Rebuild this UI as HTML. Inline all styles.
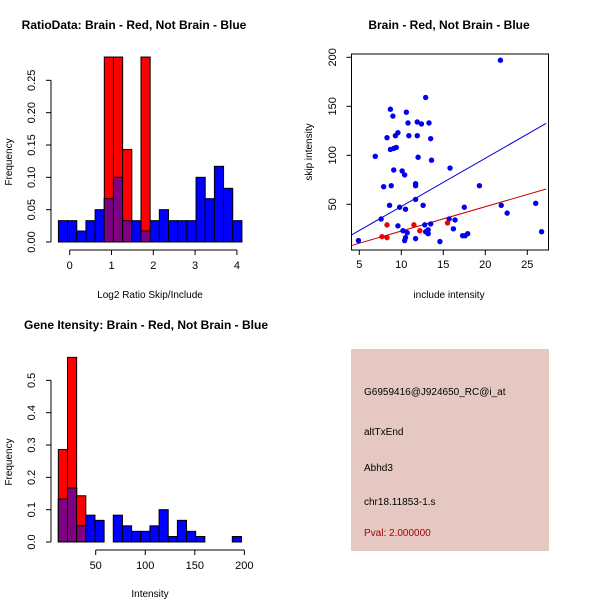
<!DOCTYPE html>
<html><head><meta charset="utf-8"><style>
body{margin:0;background:#fff}
svg{display:block;font-family:"Liberation Sans",sans-serif}
</style></head><body>
<svg id="c" width="600" height="600" viewBox="0 0 600 600"></svg>
<script>
// ---- Data: ratio histogram ----
const ratioBinStart = -0.27, ratioBinWidth = 0.2195;
const ratioBlue = [0.033,0.033,0.017,0.033,0.05,0.067,0.1,0.033,0.033,0.017,0.033,0.05,0.033,0.033,0.033,0.1,0.067,0.117,0.083,0.033];
const ratioRed  = [0,0,0,0,0,0.286,0.286,0.143,0,0.286,0,0,0,0,0,0,0,0,0,0];
const ratioXTicks = [0,1,2,3,4];
const ratioYTicks = ["0.00","0.05","0.10","0.15","0.20","0.25"];
// ---- Data: intensity histogram ----
const intBinStart = 12.3, intBinWidth = 9.24;
const intBlue = [0.133,0.167,0.05,0.083,0.067,0,0.083,0.05,0.033,0.033,0.05,0.1,0.017,0.067,0.033,0.017,0,0,0,0.017];
const intRed  = [0.286,0.571,0.143,0,0,0,0,0,0,0,0,0,0,0,0,0,0,0,0,0];
const intXTicks = [50,100,150,200];
const intYTicks = ["0.0","0.1","0.2","0.3","0.4","0.5"];
// ---- Data: scatter ----
const blueX = [4.9,6.9,7.6,7.9,8.3,8.6,8.7,8.7,8.8,9.0,9.1,9.1,9.3,9.4,9.6,9.6,9.8,10.1,10.2,10.4,10.5,10.6,10.4,10.5,10.7,10.8,10.9,11.7,11.7,11.7,11.7,11.9,11.9,12.0,12.4,12.6,12.8,12.9,12.9,13.0,13.2,13.2,13.3,13.5,13.5,13.6,14.6,15.7,15.8,16.2,16.4,17.3,17.5,17.6,17.9,19.3,21.8,21.9,22.6,26.0,26.7];
const blueY = [13,99,35,68,118,49,147,106,69,140,85,107,120,108,28,123,47,84,23,80,45,144,13,16,21,133,120,71,69,55,15,134,120,98,132,49,29,159,22,22,24,20,133,117,30,95,12,35,87,25,34,18,47,18,20,69,197,49,41,51,22];
const redX = [8.3,8.3,7.7,11.5,12.2,15.5];
const redY = [29,16,17,29,23,31];
const blueLine = [[3.85,17.6],[27.25,132.6]];
const redLine = [[3.85,7.4],[27.25,65.6]];
const scXTicks = [5,10,15,20,25];
const scYTicks = [50,100,150,200];

const NS="http://www.w3.org/2000/svg", svg=document.getElementById('c');
function el(tag, attrs, parent, text){const e=document.createElementNS(NS,tag);for(const k in attrs)e.setAttribute(k,attrs[k]);if(text!==undefined)e.textContent=text;(parent||svg).appendChild(e);return e;}
const LBL={fill:'#000','font-size':11};

function hist(name,ox,oy,sx,sy,start,w,blue,red,xt,yt,yStep,title,titleX,xl,xlY){
  const g=el('g',{},svg);
  
  
  const X=v=>ox+(v-xt[0])*sx, Y=v=>oy-v*sy;
  blue.forEach((b,i)=>{
    const x0=X(start+i*w), x1=X(start+(i+1)*w), r=red[i];
    if(b>0){const e=el('rect',{x:x0,y:Y(b),width:x1-x0,height:Y(0)-Y(b),fill:'#0000ff',stroke:'#000','stroke-width':1},g);
      
      }
    if(r>0){const e=el('rect',{x:x0,y:Y(r),width:x1-x0,height:Y(0)-Y(r),fill:'#ff0000',stroke:'#000','stroke-width':1},g);
      
      }
    const m=Math.min(b,r);
    if(m>0){const e=el('rect',{x:x0,y:Y(m),width:x1-x0,height:Y(0)-Y(m),fill:'#7f0080',stroke:'#000','stroke-width':1},g);
      
      }
  });
  const ay=oy+8;
  el('line',{x1:X(xt[0]),y1:ay,x2:X(xt[xt.length-1]),y2:ay,stroke:'#000'},g);
  xt.forEach(t=>{el('line',{x1:X(t),y1:ay,x2:X(t),y2:ay+5,stroke:'#000'},g);
    const tx=el('text',Object.assign({x:X(t),y:ay+19,'text-anchor':'middle'},LBL),g,String(t));
    
    });
  const ax=51;
  el('line',{x1:ax,y1:Y(0),x2:ax,y2:Y(yStep*(yt.length-1)),stroke:'#000'},g);
  yt.forEach((t,i)=>{const yy=Y(i*yStep);el('line',{x1:ax,y1:yy,x2:ax-5,y2:yy,stroke:'#000'},g);
    const tx=el('text',Object.assign({x:ax-16,y:yy,'text-anchor':'middle',transform:`rotate(-90 ${ax-16} ${yy})`},LBL),g,t);
    
    });
  const tt=el('text',{x:titleX,y:oy-213,'text-anchor':'middle','font-size':12,'font-weight':'bold'},g,title);
  
  
  const xlab=el('text',{x:150,y:xlY,'text-anchor':'middle','font-size':10},g,xl);
  
  
  const ylab=el('text',{x:12,y:oy-80,'text-anchor':'middle','font-size':10,transform:`rotate(-90 12 ${oy-80})`},g,'Frequency');
  
  
}
hist('ratio-histogram',69.7,242,41.8,646.7,ratioBinStart,ratioBinWidth,ratioBlue,ratioRed,ratioXTicks,ratioYTicks,0.05,'RatioData: Brain - Red, Not Brain - Blue',134,'Log2 Ratio Skip/Include',298);
hist('intensity-histogram',95.7,542,0.991,323.3,intBinStart,intBinWidth,intBlue,intRed,intXTicks,intYTicks,0.1,'Gene Itensity: Brain - Red, Not Brain - Blue',146,'Intensity',597);

(function(){
  const g=el('g',{},svg);
  
  
  const X=v=>359.3+(v-5)*8.4, Y=v=>204.3-(v-50)*0.98;
  el('rect',{x:351.5,y:54,width:197,height:196,fill:'none',stroke:'#000'},g);
  const cp=el('clipPath',{id:'cp'},g);el('rect',{x:351.5,y:54,width:197,height:196},cp);
  const lb=el('line',{x1:X(blueLine[0][0]),y1:Y(blueLine[0][1]),x2:X(blueLine[1][0]),y2:Y(blueLine[1][1]),stroke:'#0000cc','clip-path':'url(#cp)'},g);
  
  
  const lr=el('line',{x1:X(redLine[0][0]),y1:Y(redLine[0][1]),x2:X(redLine[1][0]),y2:Y(redLine[1][1]),stroke:'#cc0000','clip-path':'url(#cp)'},g);
  
  
  blueX.forEach((x,i)=>{const c=el('circle',{cx:X(x),cy:Y(blueY[i]),r:2.7,fill:'#0000ee'},g);
    
    });
  redX.forEach((x,i)=>{const c=el('circle',{cx:X(x),cy:Y(redY[i]),r:2.7,fill:'#ee0000'},g);
    
    });
  scXTicks.forEach(t=>{el('line',{x1:X(t),y1:250,x2:X(t),y2:255,stroke:'#000'},g);
    const tx=el('text',Object.assign({x:X(t),y:268,'text-anchor':'middle'},LBL),g,String(t));
    
    });
  scYTicks.forEach(t=>{const yy=Y(t);el('line',{x1:351.5,y1:yy,x2:346.5,y2:yy,stroke:'#000'},g);
    const tx=el('text',Object.assign({x:336,y:yy,'text-anchor':'middle',transform:`rotate(-90 336 ${yy})`},LBL),g,String(t));
    
    });
  const tt=el('text',{x:449,y:29,'text-anchor':'middle','font-size':12,'font-weight':'bold'},g,'Brain - Red, Not Brain - Blue');
  
  
  const xl=el('text',{x:449,y:298,'text-anchor':'middle','font-size':10},g,'include intensity');
  
  
  const yl=el('text',{x:312,y:152,'text-anchor':'middle','font-size':10,transform:'rotate(-90 312 152)'},g,'skip intensity');
  
  
})();

(function(){
  const g=el('g',{},svg);
  
  
  el('rect',{x:351,y:349,width:198,height:202,fill:'#e6c8c2'},g);
  const lines=[['G6959416@J924650_RC@i_at',395,'#000','probe-id'],['altTxEnd',435,'#000','event-type'],['Abhd3',471,'#000','gene-name'],['chr18.11853-1.s',505,'#000','locus'],['Pval: 2.000000',536,'#aa0000','p-value']];
  lines.forEach(l=>{const t=el('text',{x:364,y:l[1],'font-size':10,fill:l[2]},g,l[0]);
    
    });
})();
</script>
</body></html>
